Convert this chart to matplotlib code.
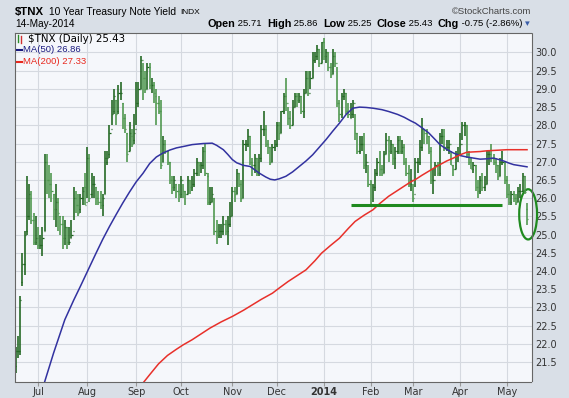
import matplotlib
matplotlib.use("Agg")
import matplotlib.pyplot as plt
from matplotlib.patches import Ellipse
from matplotlib.lines import Line2D
import numpy as np
import pandas as pd

W, H = 569, 398

# NYSE holidays inside the range, so bars line up on trading days
holidays = ["2013-07-04", "2013-09-02", "2013-11-28", "2013-12-25",
            "2014-01-01", "2014-01-20", "2014-02-17", "2014-04-18"]
dates = pd.bdate_range("2013-06-17", "2014-05-14", freq="C", holidays=holidays)

# daily OHLC of $TNX (Jun 2013 .. May 2014)
opens = [
    21.4, 21.8, 21.8, 23.7, 24.2, 25.1, 25.5, 26.0, 25.4, 24.8,
    24.9, 24.7, 24.7, 25.1, 27.0, 26.5, 26.4, 26.1, 25.7, 25.9, 25.5, 25.3, 24.9, 25.2, 24.8, 24.9, 25.1, 26.0, 25.8, 25.7, 26.0, 26.3,
    25.9, 27.1, 26.1, 26.4, 26.3, 26.0, 25.9, 25.8, 26.1, 27.0, 27.2, 27.9, 28.4, 28.7, 28.4, 28.9, 28.6, 28.2, 27.8, 27.3, 27.7, 27.6,
    27.9, 28.6, 29.0, 29.8, 29.3, 29.0, 29.6, 29.1, 29.1, 28.8, 28.6, 28.4, 27.0, 27.5, 27.3, 27.0, 26.5, 26.3, 26.4, 26.2,
    26.1, 26.5, 26.2, 26.1, 26.5, 26.3, 26.4, 26.7, 27.0, 26.9, 26.9, 27.3, 26.6, 25.9, 25.9, 26.0, 25.1, 25.0, 25.1, 25.1, 25.3, 25.1, 25.3,
    25.5, 26.2, 26.1, 26.7, 26.4, 26.0, 27.5, 27.5, 27.7, 27.0, 26.9, 27.1, 26.7, 27.1, 27.9, 27.9, 27.5, 27.4, 27.0, 27.4,
    27.5, 28.0, 27.8, 28.4, 28.8, 28.6, 28.2, 28.0, 28.5, 28.8, 28.7, 28.8, 28.4, 28.9, 29.3, 28.9, 29.3, 29.8, 29.9, 30.1, 29.7,
    30.3, 29.9, 30.0, 29.6, 29.4, 29.9, 29.7, 28.6, 28.3, 28.8, 28.9, 28.4, 28.2, 28.3, 28.6, 27.8, 27.3, 27.5, 27.5, 26.9, 27.0,
    26.4, 25.8, 26.3, 26.7, 27.0, 26.8, 26.7, 27.2, 27.6, 27.3, 27.5, 27.1, 27.3, 27.6, 27.3, 27.4, 27.0, 26.7, 26.4,
    26.5, 26.1, 27.0, 27.0, 27.4, 27.9, 27.8, 27.7, 27.3, 26.5, 26.5, 26.9, 26.7, 27.7, 27.7, 27.4, 27.4, 27.5, 26.9, 26.8, 27.2,
    27.2, 27.5, 28.0, 28.0, 27.2, 27.0, 26.8, 26.9, 26.3, 26.2, 26.5, 26.3, 26.4, 27.2, 27.2, 27.1, 27.0, 26.9, 26.6, 27.0, 27.0,
    26.5, 26.1, 25.9, 26.1, 26.0, 25.9, 26.2, 26.2, 26.6, 25.71,
]
highs = [
    21.9, 22.2, 23.3, 24.5, 25.1, 26.6, 26.4, 26.2, 25.6, 25.5,
    25.2, 25.0, 25.2, 27.2, 27.2, 26.9, 26.7, 26.1, 26.4, 26.0, 25.5, 25.5, 25.4, 25.2, 25.2, 25.4, 26.3, 26.2, 26.1, 26.1, 26.3, 26.7,
    27.4, 27.2, 26.7, 26.6, 26.3, 26.2, 26.2, 26.1, 27.3, 27.3, 28.0, 28.7, 29.0, 28.7, 29.1, 29.2, 28.6, 28.3, 27.8, 28.1, 27.9, 28.3,
    29.2, 29.2, 29.9, 29.7, 29.5, 29.7, 29.7, 29.3, 29.2, 29.0, 28.8, 28.7, 27.7, 27.6, 27.3, 27.0, 26.6, 26.6, 26.4, 26.4,
    26.6, 26.4, 26.2, 26.6, 26.5, 26.6, 26.8, 27.1, 27.0, 27.0, 27.4, 27.5, 26.7, 26.3, 26.3, 26.0, 25.4, 25.3, 25.3, 25.5, 25.4, 25.5, 25.9,
    26.3, 26.3, 26.8, 26.7, 26.5, 27.6, 27.6, 27.9, 27.7, 27.1, 27.2, 27.1, 27.2, 28.0, 28.4, 28.0, 27.6, 27.4, 27.5, 27.6,
    28.1, 28.1, 28.4, 28.9, 29.3, 28.5, 28.4, 28.7, 28.9, 28.9, 28.9, 28.8, 29.0, 29.5, 29.5, 29.5, 30.0, 30.0, 30.2, 30.1, 30.3,
    30.4, 30.1, 30.0, 29.7, 30.1, 30.0, 29.6, 28.7, 28.9, 29.0, 28.9, 28.6, 28.6, 28.7, 28.3, 27.8, 27.7, 27.7, 27.8, 27.2, 26.9,
    26.5, 26.4, 26.8, 27.1, 27.3, 26.9, 27.3, 27.8, 27.7, 27.6, 27.5, 27.4, 27.7, 27.7, 27.6, 27.5, 27.1, 26.9, 26.8,
    26.4, 27.1, 27.1, 27.6, 28.2, 27.9, 27.9, 27.7, 27.4, 26.8, 27.0, 27.0, 27.8, 27.9, 27.9, 27.6, 27.6, 27.3, 26.9, 27.3, 27.4,
    27.8, 28.1, 28.1, 28.0, 27.3, 27.1, 27.0, 26.9, 26.5, 26.6, 26.7, 26.6, 27.3, 27.3, 27.5, 27.2, 27.1, 26.9, 27.1, 27.3, 27.0,
    26.6, 26.4, 26.2, 26.2, 26.1, 26.3, 26.4, 26.7, 26.6, 25.86,
]
lows = [
    21.2, 21.6, 21.7, 23.6, 23.9, 25.0, 25.4, 25.3, 24.7, 24.7,
    24.6, 24.6, 24.4, 25.1, 26.1, 26.0, 25.9, 25.4, 25.2, 25.1, 25.0, 24.6, 24.7, 24.6, 24.7, 24.9, 25.4, 25.6, 25.5, 25.6, 25.8, 25.8,
    26.0, 25.9, 26.0, 26.0, 25.8, 25.8, 25.7, 25.5, 26.1, 26.9, 27.1, 28.0, 28.3, 28.0, 28.3, 28.7, 27.9, 27.8, 27.0, 27.3, 27.4, 27.5,
    28.0, 28.5, 29.0, 28.7, 28.9, 29.0, 29.0, 28.9, 28.6, 28.0, 28.3, 26.8, 27.0, 27.2, 26.9, 26.4, 26.1, 26.2, 26.0, 25.9,
    26.0, 26.0, 25.8, 26.1, 26.1, 26.2, 26.3, 26.6, 26.6, 26.7, 26.8, 26.6, 25.8, 25.8, 25.9, 25.0, 24.75, 24.9, 24.9, 25.0, 25.0, 24.7, 25.2,
    25.5, 25.9, 26.1, 26.3, 25.9, 26.0, 27.3, 27.4, 26.9, 26.6, 26.7, 26.6, 26.6, 27.0, 27.7, 27.4, 27.2, 26.9, 27.0, 27.3,
    27.4, 27.6, 27.8, 28.3, 28.4, 28.0, 27.9, 28.0, 28.5, 28.5, 28.6, 28.3, 28.2, 28.9, 28.8, 29.0, 29.3, 29.7, 29.8, 29.6, 29.7,
    29.8, 29.7, 29.5, 29.3, 29.4, 29.6, 28.5, 28.1, 28.2, 28.7, 28.3, 28.2, 28.2, 28.2, 27.6, 27.2, 27.2, 27.3, 26.8, 26.7, 26.3,
    25.8, 25.9, 26.2, 26.6, 26.6, 26.6, 26.7, 27.2, 27.0, 27.2, 26.9, 26.8, 27.2, 27.2, 27.2, 26.9, 26.6, 26.3, 26.2,
    25.9, 26.3, 26.7, 26.9, 27.3, 27.5, 27.5, 27.2, 26.4, 26.1, 26.6, 26.6, 26.6, 27.5, 27.3, 27.3, 27.2, 26.9, 26.6, 26.8, 27.0,
    27.2, 27.6, 27.7, 27.1, 26.9, 26.8, 26.7, 26.2, 26.0, 26.1, 26.2, 26.2, 26.4, 26.9, 27.0, 26.9, 26.7, 26.5, 26.6, 26.9, 26.4,
    26.0, 25.8, 25.8, 25.9, 25.8, 25.9, 26.0, 26.2, 26.1, 25.25,
]
closes = [
    21.8, 21.8, 23.2, 24.2, 25.0, 25.5, 26.1, 25.4, 24.8, 24.9,
    24.7, 24.7, 24.9, 27.0, 26.5, 26.4, 26.2, 25.7, 25.9, 25.6, 25.3, 24.9, 25.2, 24.8, 24.8, 25.0, 26.0, 25.8, 25.6, 26.0, 26.2, 25.8,
    27.1, 26.0, 26.4, 26.4, 26.0, 25.9, 25.8, 26.0, 27.1, 27.1, 27.8, 28.3, 28.8, 28.3, 28.9, 28.9, 28.2, 27.9, 27.2, 27.8, 27.5, 27.8,
    28.6, 29.0, 29.8, 29.3, 29.0, 29.6, 29.1, 29.1, 28.9, 28.6, 28.4, 26.9, 27.5, 27.3, 27.0, 26.5, 26.3, 26.5, 26.2, 26.1,
    26.5, 26.2, 26.1, 26.5, 26.3, 26.4, 26.7, 27.0, 26.9, 26.9, 27.3, 26.7, 25.9, 25.9, 26.1, 25.1, 25.0, 25.1, 25.1, 25.3, 25.1, 25.3, 25.5,
    26.2, 26.1, 26.7, 26.4, 26.0, 27.5, 27.5, 27.7, 27.0, 26.9, 27.1, 26.7, 27.1, 27.9, 27.9, 27.5, 27.4, 27.0, 27.4, 27.5,
    28.0, 27.8, 28.4, 28.8, 28.6, 28.2, 28.0, 28.5, 28.8, 28.7, 28.8, 28.4, 28.9, 29.3, 28.9, 29.3, 29.8, 29.9, 30.1, 29.7, 30.3,
    29.9, 30.0, 29.6, 29.4, 29.9, 29.7, 28.6, 28.3, 28.8, 28.9, 28.4, 28.3, 28.3, 28.6, 27.8, 27.3, 27.5, 27.5, 26.9, 27.0, 26.4,
    25.8, 26.3, 26.7, 27.0, 26.8, 26.7, 27.2, 27.6, 27.3, 27.5, 27.1, 27.3, 27.6, 27.3, 27.4, 27.0, 26.7, 26.4, 26.5,
    26.0, 27.0, 27.0, 27.4, 27.9, 27.8, 27.7, 27.3, 26.5, 26.5, 26.9, 26.7, 27.7, 27.7, 27.4, 27.4, 27.5, 26.9, 26.8, 27.2, 27.2,
    27.5, 28.0, 28.0, 27.2, 27.0, 26.8, 26.9, 26.3, 26.2, 26.5, 26.3, 26.4, 27.2, 27.2, 27.1, 27.0, 26.9, 26.6, 27.0, 27.0, 26.5,
    26.1, 25.9, 26.1, 26.0, 25.9, 26.2, 26.2, 26.6, 26.18, 25.43,
]

# moving averages (trading-day number, value)
ma50_day = [13, 17, 22, 26, 29, 33, 36, 39, 42, 45, 48, 51, 54, 57, 60, 63, 66, 69, 72, 76, 79, 84, 88,
            90, 93, 95, 97, 99, 102, 105, 107, 109, 112, 114, 116, 118, 121, 124, 127, 130, 133, 136,
            139, 142, 145, 148, 151, 154, 157, 160, 164, 167, 171, 174, 177, 179, 182, 185, 188, 190,
            193, 196, 199, 202, 205, 208, 211, 214, 217, 219, 221, 223, 226, 229]
ma50_val = [20.96, 21.75, 22.66, 23.2, 23.58, 24.1, 24.49, 24.87, 25.22, 25.55, 25.87, 26.17, 26.45,
            26.68, 26.95, 27.13, 27.24, 27.32, 27.38, 27.43, 27.47, 27.5, 27.51, 27.45, 27.33, 27.2,
            27.06, 26.97, 26.9, 26.87, 26.78, 26.69, 26.58, 26.52, 26.5, 26.53, 26.6, 26.72, 26.87,
            27.02, 27.19, 27.4, 27.61, 27.84, 28.06, 28.3, 28.47, 28.5, 28.49, 28.47, 28.43, 28.38,
            28.3, 28.22, 28.12, 28.06, 27.93, 27.79, 27.6, 27.47, 27.34, 27.24, 27.17, 27.13, 27.1,
            27.07, 27.08, 27.1, 27.05, 27.01, 26.96, 26.92, 26.89, 26.86]
ma200_day = [57, 60, 64, 68, 72, 75, 79, 83, 87, 92, 97, 102, 106, 110, 115, 118, 122, 126, 130, 134,
             137, 141, 145, 149, 152, 156, 160, 163, 167, 171, 174, 177, 179, 182, 185, 188, 190, 193,
             196, 199, 202, 205, 208, 211, 214, 217, 220, 229]
ma200_val = [20.92, 21.15, 21.45, 21.68, 21.85, 21.97, 22.11, 22.27, 22.43, 22.6, 22.75, 22.92, 23.07,
             23.22, 23.39, 23.53, 23.71, 23.87, 24.03, 24.28, 24.49, 24.7, 24.9, 25.17, 25.36, 25.53,
             25.68, 25.85, 26.05, 26.21, 26.33, 26.45, 26.51, 26.63, 26.74, 26.85, 26.92, 27.02, 27.1,
             27.19, 27.26, 27.27, 27.28, 27.3, 27.31, 27.32, 27.33, 27.33]

support_level = 25.82
support_from, support_to = "2014-01-21", "2014-04-29"

ytick_vals = np.arange(21.5, 30.01, 0.5)

opens, highs, lows, closes = map(np.array, (opens, highs, lows, closes))
x = np.arange(len(dates))


def px(xp, yp):
    return xp / W, 1 - yp / H


fig = plt.figure(figsize=(W / 100, H / 100), dpi=100)
fig.patch.set_facecolor("#d9dfe7")
ax = fig.add_axes([15 / W, (H - 381.5) / H, 516.5 / W, 349 / H])
ax.set_facecolor("#f5f7fb")

# grid
month_pos = [i for i in range(1, len(dates)) if dates[i].month != dates[i - 1].month]
month_lab = ["2014" if dates[i].month == 1 else dates[i].strftime("%b") for i in month_pos]
ax.set_xticks(month_pos)
ax.set_xticklabels(month_lab)
for t, lab in zip(ax.get_xticklabels(), month_lab):
    if lab == "2014":
        t.set_fontweight("bold")
ax.set_yticks(ytick_vals)
ax.set_yticklabels(["%.1f" % v for v in ytick_vals])
ax.grid(True, color="#d5d9e0", lw=0.8)
ax.set_axisbelow(True)

# price bars
up = closes >= opens
for mask, col in ((up, "#1d641d"), (~up, "#4a954a")):
    ax.vlines(x[mask], lows[mask], highs[mask], color=col, lw=1.15)
    ax.hlines(opens[mask], x[mask] - 0.5, x[mask], color=col, lw=0.9)
    ax.hlines(closes[mask], x[mask], x[mask] + 0.5, color=col, lw=0.9)

ax.plot(ma50_day, ma50_val, color="#3232a0", lw=1.1)
ax.plot(ma200_day, ma200_val, color="#e8302a", lw=1.1)

# annotations
s0 = dates.get_loc(pd.Timestamp(support_from))
s1 = dates.get_loc(pd.Timestamp(support_to))
ax.plot([s0, s1], [support_level, support_level], color="#1f8a1f", lw=2.2, solid_capstyle="butt")
ax.add_patch(Ellipse((x[-1] + 0.5, (highs[-1] + lows[-1]) / 2), 8, 1.38, fill=False,
                     ec="#1f8a1f", lw=1.6, clip_on=False))

ax.set_xlim(-0.3, 231.0)
ax.set_ylim(20.964, 30.549)

ax.yaxis.tick_right()
ax.tick_params(axis="y", length=0, pad=3, labelsize=7, labelcolor="#333333")
ax.tick_params(axis="x", length=3, color="#999999", pad=1, labelsize=7, labelcolor="#333333")
for side in ("left", "bottom", "top"):
    ax.spines[side].set_color("#666666")
    ax.spines[side].set_linewidth(0.8)
ax.spines["right"].set_color("#666666")
ax.spines["right"].set_linestyle((0, (1, 1)))

sans = ["Liberation Sans", "DejaVu Sans"]

# header
fig.text(*px(15, 12), "$TNX", fontsize=8.2, fontweight="bold", va="center", family=sans)
fig.text(*px(49, 12), "10 Year Treasury Note Yield", fontsize=7.4, va="center", family=sans)
fig.text(*px(180, 12.5), "INDX", fontsize=6, va="center", family=sans)
fig.text(*px(15, 24), "14-May-2014", fontsize=7.2, va="center", family=sans)
fig.text(*px(531, 11.5), "\u00a9StockCharts.com", fontsize=6.8, va="center", ha="right",
         color="#444444", family=sans)

pieces = [("Open", True), (" 25.71  ", False), ("High", True), (" 25.86  ", False),
          ("Low", True), (" 25.25  ", False), ("Close", True), (" 25.43  ", False),
          ("Chg", True), (" -0.75 (-2.86%) ", False), ("\u25be", False)]
renderer = fig.canvas.get_renderer()
arts = []
for txt, bold in pieces:
    t = fig.text(0, 1 - 24 / H, txt, fontsize=7.8 if bold else 6.8, fontweight="bold" if bold else "normal",
                 va="center", family=sans, color="#3a5da8" if txt == "\u25be" else "black")
    arts.append(t)
widths = [a.get_window_extent(renderer).width for a in arts]
cur = 530 - sum(widths)
for a, w in zip(arts, widths):
    a.set_x(cur / W)
    cur += w

# legend block inside the plot
fig.add_artist(Line2D([18 / W, 18 / W], [1 - 35 / H, 1 - 42 / H], color="#2a8a2a", lw=1))
fig.add_artist(Line2D([21 / W, 21 / W], [1 - 36 / H, 1 - 43 / H], color="#d03030", lw=1))
fig.text(*px(28, 39), "$TNX (Daily) 25.43", fontsize=7.4, va="center", family="DejaVu Sans")
fig.add_artist(Line2D([17 / W, 22 / W], [1 - 50 / H, 1 - 50 / H], color="#1a1a80", lw=1.5))
fig.text(*px(23, 50), "MA(50) 26.86", fontsize=6.8, va="center", color="#1a1a80", family=sans)
fig.add_artist(Line2D([17 / W, 22 / W], [1 - 62 / H, 1 - 62 / H], color="#e8281e", lw=1.5))
fig.text(*px(23, 62), "MA(200) 27.33", fontsize=6.8, va="center", color="#e8281e", family=sans)

fig.savefig("out.png", dpi=100, facecolor=fig.get_facecolor())
